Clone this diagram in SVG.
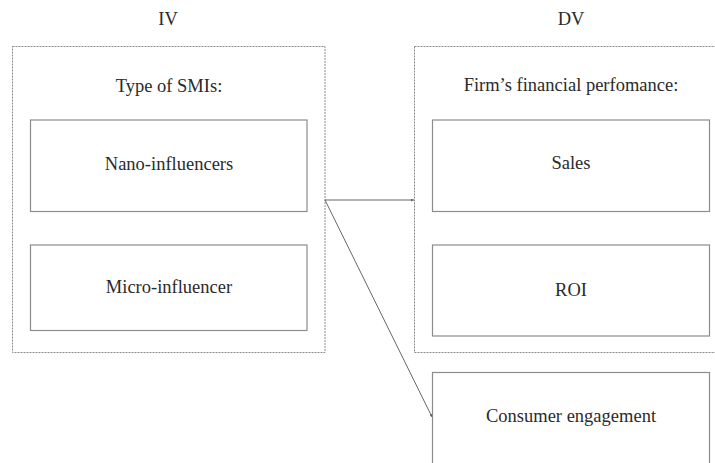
<svg xmlns="http://www.w3.org/2000/svg" width="715" height="463" viewBox="0 0 715 463">
<style>
text{font-family:'Liberation Serif','Tinos','DejaVu Serif',serif;font-size:18.5px;fill:#2a2a2a;text-anchor:middle}
.outer{fill:none;stroke:#8a8a8a;stroke-width:1;stroke-dasharray:2 1}
.box{fill:#fff;stroke:#8c8c8c;stroke-width:1.2}
.conn{fill:none;stroke:#666;stroke-width:1}
</style>
<defs>
<marker id="arr" viewBox="0 0 6 6" refX="6" refY="3" markerWidth="3" markerHeight="3" orient="auto">
<path d="M0,0 L6,3 L0,6 z" fill="#666"/>
</marker>
</defs>
<rect width="715" height="463" fill="#fff"/>
<g id="iv-label"><text x="168" y="25">IV</text></g>
<g id="dv-label"><text x="571" y="25">DV</text></g>
<g id="iv-group">
<rect class="outer" x="12.5" y="46.5" width="312.5" height="306"/>
<text x="169" y="92">Type of SMIs:</text>
</g>
<g id="nano">
<rect class="box" x="30.5" y="120" width="276.5" height="91.5"/>
<text x="169" y="170">Nano-influencers</text>
</g>
<g id="micro">
<rect class="box" x="30.5" y="245" width="276.5" height="85.5"/>
<text x="169" y="293">Micro-influencer</text>
</g>
<g id="dv-group">
<rect class="outer" x="414.5" y="46.5" width="310" height="306"/>
<text x="571" y="91">Firm’s financial perfomance:</text>
</g>
<g id="sales">
<rect class="box" x="432.5" y="120" width="277" height="91.5"/>
<text x="571" y="169">Sales</text>
</g>
<g id="roi">
<rect class="box" x="432.5" y="245" width="277" height="91"/>
<text x="571" y="296">ROI</text>
</g>
<g id="engagement">
<rect class="box" x="432.5" y="372.5" width="277" height="95"/>
<text x="571" y="422">Consumer engagement</text>
</g>
<g id="connectors">
<line class="conn" x1="325" y1="200" x2="414" y2="200" marker-end="url(#arr)"/>
<line class="conn" x1="325" y1="200" x2="432" y2="417" marker-end="url(#arr)"/>
</g>
</svg>
